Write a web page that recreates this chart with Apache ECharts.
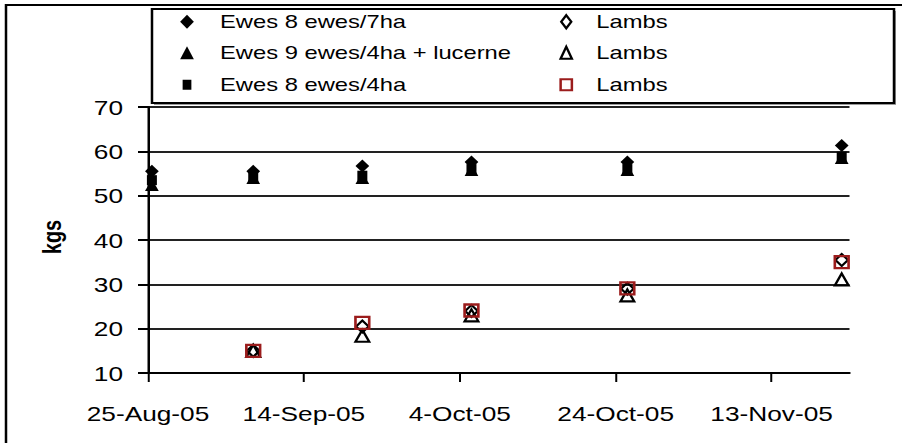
<!DOCTYPE html>
<html><head><meta charset="utf-8">
<script src="https://cdn.jsdelivr.net/npm/echarts@6/dist/echarts.min.js"></script>
<style>
html,body{margin:0;padding:0;background:#fff;overflow:hidden;width:902px;height:443px}
#c{width:721.6px;height:443px;transform:scaleX(1.25);transform-origin:0 0;}
</style></head><body><div id="c"></div>
<script>
// ---- data ----
const sampleDates = ['2005-08-25 12:00','2005-09-07 12:00','2005-09-21 12:00','2005-10-05 12:00','2005-10-25 12:00','2005-11-22 00:00'];
const axisStart = '2005-08-25';
const axisEnd = '2005-11-23';
const xTickDates = ['2005-08-25','2005-09-14','2005-10-04','2005-10-24','2005-11-13'];
const yTicks = [10,20,30,40,50,60,70];
const ewes7ha   = [55.5, 55.5, 56.7, 57.6, 57.6, 61.3];
const ewes9ha   = [52.4, 54.0, 54.0, 55.8, 55.8, 58.5];
const ewes4ha   = [53.5, 54.2, 54.5, 56.0, 56.0, 58.8];
const lambs7ha  = [null, 15.0, 20.5, 24.0, 29.0, 35.5];
const lambs9ha  = [null, 15.0, 18.4, 23.0, 27.5, 31.1];
const lambs4ha  = [null, 15.0, 21.3, 24.1, 29.1, 35.0];
const seriesNames = ['Ewes 8 ewes/7ha','Ewes 9 ewes/4ha + lucerne','Ewes 8 ewes/4ha','Lambs','Lambs','Lambs'];
const yName = 'kgs';

// ---- helpers ----
const MON = ['Jan','Feb','Mar','Apr','May','Jun','Jul','Aug','Sep','Oct','Nov','Dec'];
function toUTC(s){const [d,t]=s.split(' ');const [Y,M,D]=d.split('-').map(Number);let h=0,m=0;if(t){[h,m]=t.split(':').map(Number);}return Date.UTC(Y,M-1,D,h,m);}
const t0 = toUTC(axisStart);
const dayOf = s => (toUTC(s)-t0)/86400000;
function fmtDay(v){const d=new Date(t0+Math.round(v)*86400000);return d.getUTCDate()+'-'+MON[d.getUTCMonth()]+'-'+String(d.getUTCFullYear()).slice(2);}
const xDays = sampleDates.map(dayOf);
const tickDays = xTickDates.map(dayOf);
const pairs = arr => arr.map((v,i)=>v==null?null:[xDays[i],v]).filter(p=>p);

const S = 1.25; // horizontal stretch of the original picture
const FONT = '"Liberation Sans", Arial, sans-serif';
const ids = ['e7','e9','e4','l7','l9','l4'];
const legendText = name => seriesNames[ids.indexOf(name)];
const black = '#000';

// legend entries: [id, icon centre x (css), row centre y, icon w, icon h, text start x (css)]
const legendLayout = [
  ['e7', 149.6, 22, 11, 14, 176],
  ['e9', 149.6, 53, 11, 13, 176],
  ['e4', 149.6, 85, 7, 10, 176],
  ['l7', 452, 22, 8, 13, 476],
  ['l9', 452, 53, 9, 12, 476],
  ['l4', 452, 85, 9, 11, 476]
];
const legends = legendLayout.map(([id,cx,cy,w,h,tx])=>{
  const left = cx - w/2;
  return {data:[id], orient:'horizontal', left:left, top:cy-9.75, padding:0, itemWidth:w, itemHeight:h,
    selectedMode:false, formatter:legendText,
    textStyle:{fontSize:19, fontFamily:FONT, color:black, padding:[0,0,0,tx-(left+w+5)]}};
});

const chart = echarts.init(document.getElementById('c'), null, {renderer:'svg'});
chart.setOption({
  animation:false,
  backgroundColor:'#fff',
  grid:{left:148/S, right:721.6-849/S, top:107, bottom:443-373, containLabel:false},
  xAxis:{type:'value', min:0, max:dayOf(axisEnd), interval:20,
    axisLine:{show:true, onZero:false, lineStyle:{color:black,width:2}},
    axisTick:{show:true, inside:false, length:9, customValues:tickDays, lineStyle:{color:black,width:1.6}},
    axisLabel:{customValues:tickDays, formatter:fmtDay, margin:30, fontSize:21, fontFamily:FONT, color:black},
    splitLine:{show:false}},
  yAxis:{type:'value', min:yTicks[0], max:yTicks[yTicks.length-1], interval:10,
    name:yName, nameLocation:'middle', nameRotate:90, nameGap:66,
    nameTextStyle:{fontSize:20, fontWeight:'bold', fontFamily:FONT, color:black, padding:[0,0,0,6]},
    axisLine:{show:true, lineStyle:{color:black,width:2}},
    axisTick:{show:true, inside:false, length:8, lineStyle:{color:black,width:2}},
    axisLabel:{margin:20, fontSize:21, fontFamily:FONT, color:black},
    splitLine:{show:true, lineStyle:{color:'#222',width:2}}},
  legend:legends,
  graphic:[
    {type:'rect', silent:true, z:-10, shape:{x:6/S, y:5, width:3000, height:3000}, style:{fill:'none', stroke:black, lineWidth:2}},
    {type:'rect', silent:true, z:1, shape:{x:154/S, y:11, width:742/S, height:94}, style:{fill:'#9a9a9a'}},
    {type:'rect', silent:true, z:2, shape:{x:152/S, y:9, width:742/S, height:94}, style:{fill:'#fff', stroke:black, lineWidth:2}}
  ],
  series:[
    {id:'e7', name:'e7', type:'scatter', symbol:'diamond', symbolSize:[11,13], z:5, data:pairs(ewes7ha), itemStyle:{color:black, opacity:1}},
    {id:'e9', name:'e9', type:'scatter', symbol:'triangle', symbolSize:[11,12], z:4, data:pairs(ewes9ha), itemStyle:{color:black, opacity:1}},
    {id:'e4', name:'e4', type:'scatter', symbol:'rect', symbolSize:[8,10], z:3, data:pairs(ewes4ha), itemStyle:{color:black, opacity:1}},
    {id:'l7', name:'l7', type:'scatter', symbol:'diamond', symbolSize:[10,12], z:6, data:pairs(lambs7ha), itemStyle:{color:'rgba(0,0,0,0)', borderColor:black, borderWidth:2, opacity:1}},
    {id:'l9', name:'l9', type:'scatter', symbol:'triangle', symbolSize:[11,12], z:6, data:pairs(lambs9ha), itemStyle:{color:'rgba(0,0,0,0)', borderColor:black, borderWidth:2, opacity:1}},
    {id:'l4', name:'l4', type:'scatter', symbol:'rect', symbolSize:[11,12], z:7, data:pairs(lambs4ha), itemStyle:{color:'rgba(0,0,0,0)', borderColor:'#9b1c1c', borderWidth:2.2, opacity:1}}
  ]
});
</script></body></html>
